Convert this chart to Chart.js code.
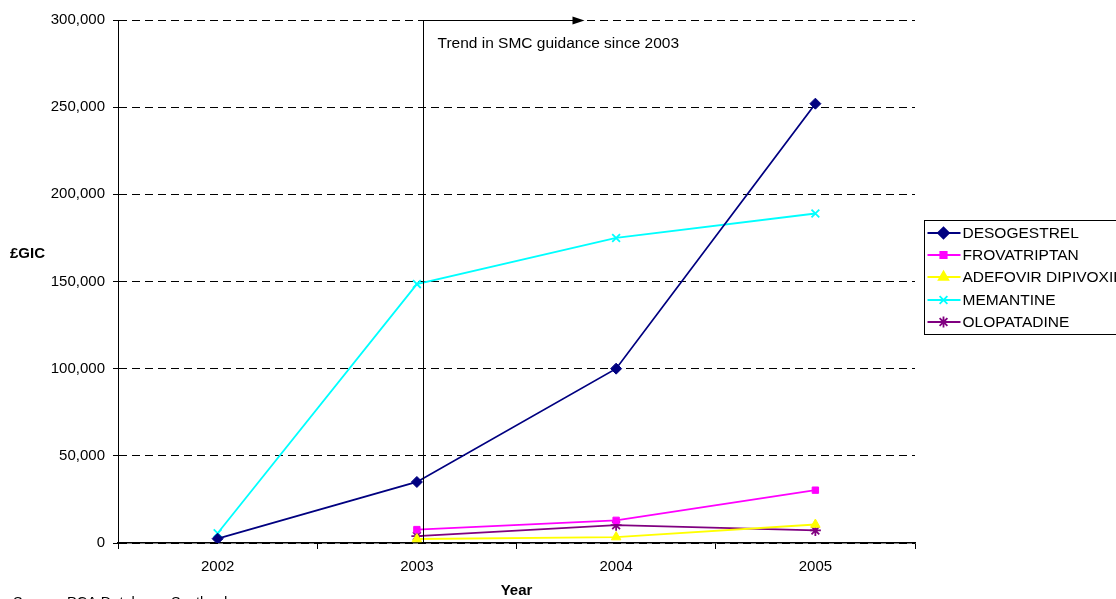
<!DOCTYPE html>
<html>
<head>
<meta charset="utf-8">
<script src="https://cdn.jsdelivr.net/npm/chart.js@4.4.1/dist/chart.umd.min.js"></script>
<style>
  html, body { margin: 0; padding: 0; background: #fff; overflow: hidden; }
  #wrap { width: 1116px; height: 599px; position: relative; }
</style>
</head>
<body>
<div id="wrap"><canvas id="c" width="1116" height="599"></canvas></div>
<script>
// Annual gross ingredient cost (£) by drug
const years = ['2002', '2003', '2004', '2005'];
const desogestrel = [2500, 35000, 100000, 252000];
const frovatriptan = [null, 7700, 13000, 30300];
const adefovir = [null, 2300, 3400, 10600];
const memantine = [5600, 148500, 175000, 189000];
const olopatadine = [null, 4000, 10200, 7200];
const yTicks = [0, 50000, 100000, 150000, 200000, 250000, 300000];

const seriesNames = ['DESOGESTREL', 'FROVATRIPTAN', 'ADEFOVIR DIPIVOXIL', 'MEMANTINE', 'OLOPATADINE'];
const seriesColors = ['#000080', '#FF00FF', '#FFFF00', '#00FFFF', '#800080'];
const seriesPoints = ['rectRot', 'rect', 'triangle', 'crossRot', 'star'];
const seriesData = [desogestrel, frovatriptan, adefovir, memantine, olopatadine];

const FONT = '"Liberation Sans", Arial, sans-serif';

function markerRadius(style) { return style === 'rect' ? 4.5 : 5.5; }
function markerBorder(style) { return style === 'crossRot' || style === 'star' ? 1.8 : 1; }

const datasets = seriesNames.map((name, i) => ({
  label: name,
  data: seriesData[i],
  borderColor: seriesColors[i],
  backgroundColor: seriesColors[i],
  borderWidth: 1.8,
  pointStyle: seriesPoints[i],
  pointRadius: markerRadius(seriesPoints[i]),
  pointBorderWidth: markerBorder(seriesPoints[i]),
  spanGaps: false,
  tension: 0
}));

// Annotation, axis titles, legend box and source note
const decorations = {
  id: 'decorations',
  afterDraw(chart) {
    const ctx = chart.ctx;
    const xs = chart.scales.x, ys = chart.scales.y;
    const area = chart.chartArea;
    ctx.save();

    // guidance marker: vertical rule just right of 2003, arrow along the top
    const gx = Math.round(xs.getPixelForValue(1) + 6) + 0.5;
    const top = Math.round(ys.getPixelForValue(300000)) + 0.5;
    const bottom = ys.getPixelForValue(0);
    ctx.strokeStyle = '#000';
    ctx.lineWidth = 1;
    ctx.beginPath();
    ctx.moveTo(gx, bottom);
    ctx.lineTo(gx, top);
    ctx.lineTo(gx + 150, top);
    ctx.stroke();
    ctx.fillStyle = '#000';
    ctx.beginPath();
    ctx.moveTo(gx + 161, top);
    ctx.lineTo(gx + 149, top - 4);
    ctx.lineTo(gx + 149, top + 4);
    ctx.closePath();
    ctx.fill();
    ctx.font = '15.5px ' + FONT;
    ctx.textAlign = 'left';
    ctx.textBaseline = 'middle';
    ctx.fillText('Trend in SMC guidance since 2003', gx + 14, top + 23);

    // axis titles
    ctx.font = 'bold 15px ' + FONT;
    ctx.textAlign = 'left';
    ctx.fillText('£GIC', 10, 254);
    ctx.textAlign = 'center';
    ctx.fillText('Year', (area.left + area.right) / 2, 591);

    // source note
    ctx.font = '14.5px ' + FONT;
    ctx.textAlign = 'left';
    ctx.textBaseline = 'alphabetic';
    ctx.fillText('Source: PCA Database, Scotland', 13, 607);

    // legend
    const lx = 924.5, ly = 220.5, lw = 200, lh = 114;
    ctx.strokeStyle = '#000';
    ctx.lineWidth = 1;
    ctx.strokeRect(lx, ly, lw, lh);
    ctx.font = '15.5px ' + FONT;
    ctx.textBaseline = 'middle';
    chart.data.datasets.forEach((ds, i) => {
      const y = Math.round(ly + 12.5 + i * 22.2);
      ctx.strokeStyle = ds.borderColor;
      ctx.fillStyle = ds.borderColor;
      ctx.lineWidth = 1.8;
      ctx.beginPath();
      ctx.moveTo(lx + 3, y);
      ctx.lineTo(lx + 36, y);
      ctx.stroke();
      Chart.helpers.drawPoint(ctx, {
        pointStyle: ds.pointStyle,
        radius: markerRadius(ds.pointStyle),
        borderWidth: ds.pointBorderWidth,
        rotation: 0
      }, lx + 19, y);
      ctx.fillStyle = '#000';
      ctx.textAlign = 'left';
      ctx.fillText(ds.label, lx + 38, y + 1);
    });
    ctx.restore();
  }
};

new Chart(document.getElementById('c'), {
  type: 'line',
  data: { labels: years, datasets },
  plugins: [decorations],
  options: {
    responsive: false,
    animation: false,
    devicePixelRatio: 1,
    layout: { padding: { top: 20, right: 201, bottom: 0, left: 0 } },
    plugins: { legend: { display: false }, tooltip: { enabled: false } },
    scales: {
      x: {
        type: 'category',
        offset: true,
        afterFit(axis) { axis.height = 56; },
        grid: {
          offset: true,
          drawOnChartArea: false,
          drawTicks: true,
          tickLength: 6,
          color: '#000'
        },
        border: { display: true, color: '#000', width: 1.5 },
        ticks: { color: '#000', font: { family: FONT, size: 15 }, padding: 9 }
      },
      y: {
        min: 0,
        max: 300000,
        afterBuildTicks(axis) { axis.ticks = yTicks.map(v => ({ value: v })); },
        afterFit(axis) { axis.width = 118; },
        grid: {
          color: '#000',
          lineWidth: 1,
          tickBorderDash: [],
          tickLength: 5,
          tickColor: '#000',
          drawTicks: true
        },
        border: { display: true, color: '#000', width: 1, dash: [8, 5] },
        ticks: {
          color: '#000',
          font: { family: FONT, size: 15 },
          padding: 8,
          callback: v => v.toLocaleString('en-GB')
        }
      }
    }
  }
});
</script>
</body>
</html>
